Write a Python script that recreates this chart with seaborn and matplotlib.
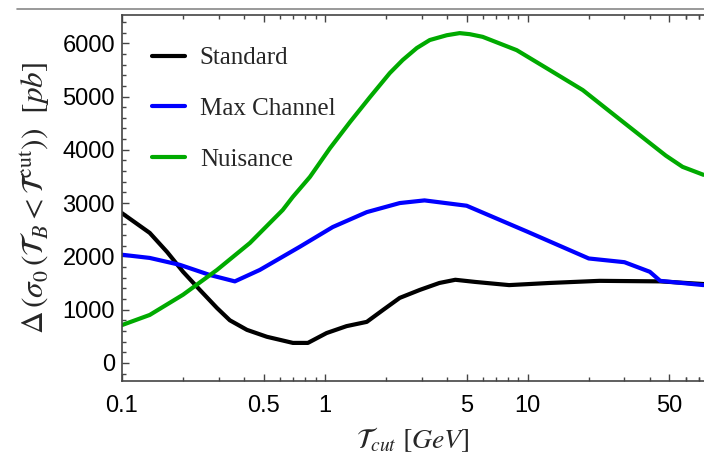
import matplotlib
matplotlib.use("Agg")
from matplotlib import pyplot as plt
from matplotlib.lines import Line2D
from matplotlib.ticker import FixedLocator, FixedFormatter, NullFormatter, MultipleLocator
import numpy as np
import pandas as pd
import seaborn as sns

# values
std_x = [0.1, 0.137, 0.167, 0.2, 0.242, 0.294, 0.34, 0.413, 0.518, 0.696, 0.825,
         1.02, 1.28, 1.61, 1.93, 2.34, 2.94, 3.67, 4.4, 5.5, 8.1, 12.8, 22.6, 45.0, 73.6]
std_y = [2810, 2440, 2080, 1710, 1370, 1030, 800, 620, 490, 375, 375,
         560, 690, 770, 990, 1220, 1370, 1500, 1560, 1520, 1460, 1500, 1540, 1530, 1480]

max_x = [0.1, 0.137, 0.193, 0.271, 0.36, 0.478, 0.753, 1.094, 1.61, 2.34, 3.1,
         5.0, 10.0, 20.0, 30.0, 40.0, 45.0, 73.6]
max_y = [2030, 1970, 1840, 1650, 1530, 1745, 2180, 2550, 2830, 3000, 3050,
         2950, 2460, 1960, 1890, 1710, 1540, 1460]

nui_x = [0.1, 0.137, 0.2, 0.294, 0.427, 0.62, 0.695, 0.844, 1.06, 1.33, 1.67,
         2.09, 2.42, 2.84, 3.29, 3.99, 4.62, 5.18, 6.0, 8.83, 12.8, 18.7, 27.4,
         39.9, 48.0, 58.0, 73.6]
nui_y = [710, 900, 1280, 1745, 2250, 2870, 3115, 3490, 4030, 4520, 4990,
         5440, 5685, 5910, 6060, 6150, 6190, 6170, 6120, 5870, 5500, 5120, 4620,
         4130, 3890, 3680, 3530]

labels = ["Standard", "Max Channel", "Nuisance"]
colors = ["#000000", "#0000FF", "#00AA00"]

xticks_major = [0.1, 0.5, 1, 5, 10, 50]
xtick_labels = ["0.1", "0.5", "1", "5", "10", "50"]
yticks_major = [0, 1000, 2000, 3000, 4000, 5000, 6000]

sns.set_theme(style="ticks")
plt.rcParams["mathtext.fontset"] = "stix"
plt.rcParams["font.family"] = ["Liberation Sans", "DejaVu Sans"]

fig = plt.figure(figsize=(7.04, 4.58), dpi=100)
ax = fig.add_axes([122 / 704, 1 - 381 / 458, 1 - 122 / 704, (381 - 15) / 458])

for xs, ys, lab, col in zip([std_x, max_x, nui_x], [std_y, max_y, nui_y], labels, colors):
    df = pd.DataFrame({"x": xs, "y": ys})
    sns.lineplot(data=df, x="x", y="y", ax=ax, color=col, lw=3, label=lab, sort=False)

ax.set_xscale("log")
ax.set_xlim(0.1, 74)
ax.set_ylim(-340, 6530)

ax.xaxis.set_major_locator(FixedLocator(xticks_major))
ax.xaxis.set_major_formatter(FixedFormatter(xtick_labels))
minor = [m * 10.0 ** e for e in range(-1, 2) for m in range(1, 10)] + [60, 70]
minor = [v for v in minor if v not in xticks_major]
ax.xaxis.set_minor_locator(FixedLocator(minor))
ax.xaxis.set_minor_formatter(NullFormatter())
ax.yaxis.set_major_locator(FixedLocator(yticks_major))
ax.yaxis.set_minor_locator(MultipleLocator(200))

ax.tick_params(which="both", direction="in", top=True, right=False, colors="#444444",
               labelcolor="black", labelsize=17, width=1)
ax.tick_params(which="major", length=5)
ax.tick_params(which="minor", length=3)
ax.tick_params(axis="x", pad=10)
ax.tick_params(axis="y", pad=5)

for s in ["left", "bottom", "top"]:
    ax.spines[s].set_color("#444444")
    ax.spines[s].set_linewidth(1.2)
ax.spines["right"].set_visible(False)

ax.set_xlabel(r"$\mathcal{T}_{cut}\ [GeV]$", fontsize=20, labelpad=6)
ax.set_ylabel(r"$\Delta\,\left(\sigma_0\,\left(\mathcal{T}_B < \mathcal{T}^{\mathrm{cut}}\right)\right)\ \ [pb]$",
              fontsize=22.5, labelpad=7)

leg = ax.legend(loc="upper left", frameon=False, handlelength=1.3, handletextpad=0.6,
                labelspacing=1.13, borderaxespad=0.0, bbox_to_anchor=(0.035, 0.94),
                prop={"family": ["Liberation Serif", "DejaVu Serif"], "size": 18})

fig.add_artist(Line2D([17 / 704, 1.0], [1 - 9 / 458, 1 - 9 / 458], color="#888888", lw=1.2))

fig.savefig("out.png", dpi=100, facecolor="w")
